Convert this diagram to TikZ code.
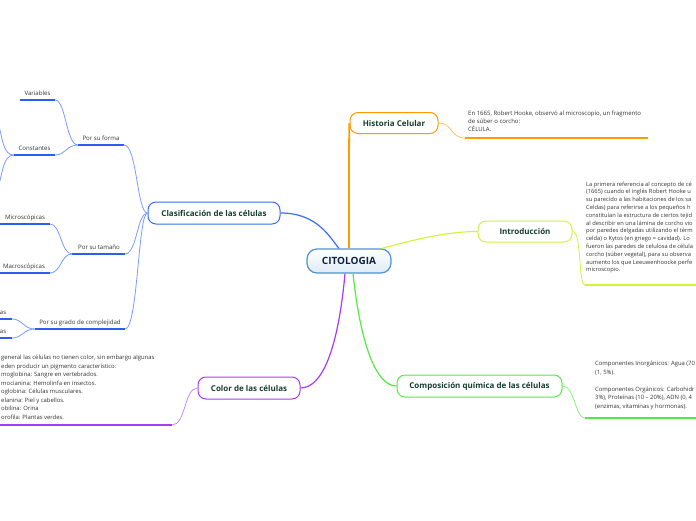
\documentclass[tikz,border=0pt]{standalone}
\usepackage{fontspec}
\setmainfont{Open Sans}
\definecolor{boxtext}{HTML}{173D31}
\definecolor{navy}{HTML}{0F2340}
\definecolor{txt}{HTML}{333333}
\definecolor{cblue}{HTML}{3A6CF4}
\definecolor{lblue}{HTML}{7A9BFF}
\definecolor{ublue}{HTML}{2C5FF0}
\definecolor{corange}{HTML}{FF9A00}
\definecolor{lorange}{HTML}{FFC060}
\definecolor{cyellow}{HTML}{D2F53C}
\definecolor{cgreen}{HTML}{55E844}
\definecolor{lgreen}{HTML}{8CF07E}
\definecolor{cpurple}{HTML}{A63CF8}
\definecolor{lpurple}{HTML}{C78AFB}
\definecolor{cborder}{HTML}{4E93D1}
\begin{document}
\begin{tikzpicture}[x=1pt,y=-1pt,
  box/.style={draw, rounded corners=8pt, fill=white, line width=1pt, inner sep=0pt,
    font=\fontsize{8}{9}\selectfont\bfseries, text=boxtext},
  topic/.style={inner sep=0pt, anchor=base, font=\fontsize{6.1}{7}\selectfont, text=txt},
  info/.style={inner sep=0pt, anchor=north west, align=left, text=txt},
  main/.style={line width=1.2pt},
  thin/.style={line width=0.8pt},
  ul/.style={line width=1.8pt}]
\useasboundingbox (0,0) rectangle (696,520);
\clip (0,0) rectangle (696,520);

% central node
\node[draw=cborder, line width=1.2pt, rounded corners=10pt, top color=white, bottom color=cborder!18,
  minimum width=84pt, minimum height=24pt, inner sep=0pt,
  font=\fontsize{10}{12}\selectfont\bfseries, text=navy] (c) at (349,261) {CITOLOGIA};

% main boxes
\node[box, draw=corange, minimum width=88pt, minimum height=21pt] (hist) at (394,123) {Historia Celular};
\node[box, draw=cyellow, minimum width=94pt, minimum height=21pt] (intro) at (525,231.5) {Introducción};
\node[box, draw=cgreen, minimum width=165pt, minimum height=22pt] (comp) at (479.5,386) {Composición química de las células};
\node[box, draw=cpurple, minimum width=102pt, minimum height=22pt] (color) at (249,388) {Color de las células};
\node[box, draw=cblue, minimum width=132pt, minimum height=22pt] (clas) at (214,213) {Clasificación de las células};

% main connectors
\draw[main, corange, line width=1.8pt] (c.north) .. controls (349,170) and (349,123) .. (hist.west);
\draw[main, cblue] ([xshift=-10pt]c.north) .. controls (330,238) and (318,213) .. (clas.east);
\draw[main, cyellow] ([xshift=33pt]c.north) .. controls (420,238) and (450,231.5) .. (intro.west);
\draw[main, cgreen] ([xshift=4pt]c.south) .. controls (360,340) and (375,386) .. (comp.west);
\draw[main, cpurple] ([xshift=-4pt]c.south) .. controls (338,350) and (322,388) .. (color.east);

% Historia text
\coordinate (hL) at (465,138); \coordinate (hR) at (648,138);
\node[info, font=\fontsize{6}{8.3}\selectfont] (htxt) at (468,110.5)
  {En 1665, Robert Hooke, observó al microscopio, un fragmento\\de súber o corcho:\\CÉLULA.};
\draw[thin, lorange] (hist.east) .. controls (453,123) and (450,138) .. (hL);
\draw[ul, corange] (hL) -- (hR);

% Introduccion text
\coordinate (iL) at (585,285); \coordinate (iR) at (700,285);
\node[info, font=\fontsize{5.75}{7.8}\selectfont] (itxt) at (586,181.5)
  {La primera referencia al concepto de cé\\(1665) cuando el inglés Robert Hooke u\\su parecido a las habitaciones de los sa\\Celdas) para referirse a los pequeños h\\constituían la estructura de ciertos tejid\\al describir en una lámina de corcho vio\\por paredes delgadas utilizando el térm\\celda) o Kytos (en griego = cavidad). Lo\\fueron las paredes de celulosa de célula\\corcho (súber vegetal), para su observa\\aumento los que Leeuwenhoocke perfe\\microscopio.};
\draw[thin, cyellow] (intro.east) .. controls (582,231.5) and (578,285) .. (iL);
\draw[ul, cyellow] (iL) -- (iR);

% Composicion text
\coordinate (qL) at (585,418); \coordinate (qR) at (700,418);
\node[info, font=\fontsize{5.9}{8.6}\selectfont] (qtxt) at (595,360.8)
  {Componentes Inorgánicos: Agua (70\\(1, 5\%).\\[8.6pt]Componentes Orgánicos: Carbohidr\\3\%), Proteínas (10 – 20\%), ADN (0, 4\\(enzimas, vitaminas y hormonas).};
\draw[thin, lgreen] (comp.east) .. controls (575,386) and (575,418) .. (qL);
\draw[ul, cgreen] (qL) -- (qR);

% Color text
\coordinate (pL) at (-5,425); \coordinate (pR) at (172,425);
\node[info, font=\fontsize{5.9}{8.5}\selectfont] (ptxt) at (1,354.8)
  {general las células no tienen color, sin embargo algunas\\eden producir un pigmento característico:\\moglobina: Sangre en vertebrados.\\mocianina: Hemolinfa en insectos.\\oglobina: Células musculares.\\elanina: Piel y cabellos.\\obilina: Orina\\orofila: Plantas verdes.};
\draw[thin, lpurple] (color.west) .. controls (184,388) and (186,425) .. (pR);
\draw[ul, cpurple] (pL) -- (pR);

% Clasificacion subtree
\node[topic] (forma) at (101,140) {Por su forma};
\coordinate (fL) at (78,145); \coordinate (fR) at (124,145);
\node[topic] (var) at (37.5,95) {Variables};
\coordinate (vL) at (20,100); \coordinate (vR) at (55,100);
\node[topic] (cons) at (34.5,150) {Constantes};
\coordinate (kL) at (14,155); \coordinate (kR) at (55,155);
\coordinate (k1) at (-3,118); \coordinate (k2) at (-3,192);

\node[topic] (tam) at (99,249) {Por su tamaño};
\coordinate (tL) at (72,254); \coordinate (tR) at (125,254);
\node[topic] (micro) at (25,219) {Microscópicas};
\coordinate (mL) at (-3,224); \coordinate (mR) at (50,224);
\node[topic] (macro) at (24,268) {Macroscópicas};
\coordinate (MaL) at (-3,273); \coordinate (MaR) at (50,273);

\node[topic] (grado) at (80,324) {Por su grado de complejidad};
\coordinate (gL) at (35,329); \coordinate (gR) at (125,329);
\node[topic, anchor=base east] (a1) at (6.5,314) {as};
\coordinate (a1L) at (-5,319); \coordinate (a1R) at (12,319);
\node[topic, anchor=base east] (a2) at (6.5,333) {as};
\coordinate (a2L) at (-5,338); \coordinate (a2R) at (12,338);

\begin{scope}[thin, lblue]
\draw (clas.west) .. controls (137,213) and (137,145) .. (fR);
\draw (clas.west) .. controls (137,213) and (137,254) .. (tR);
\draw (clas.west) .. controls (138,213) and (138,329) .. (gR);
\draw (fL) .. controls (66,145) and (66,100) .. (vR);
\draw (fL) .. controls (66,145) and (66,155) .. (kR);
\draw (kL) .. controls (3,155) and (3,140) .. (k1);
\draw (kL) .. controls (3,155) and (3,172) .. (k2);
\draw (tL) .. controls (61,254) and (61,224) .. (mR);
\draw (tL) .. controls (61,254) and (61,273) .. (MaR);
\draw (gL) .. controls (23,329) and (23,319) .. (a1R);
\draw (gL) .. controls (23,329) and (23,338) .. (a2R);
\end{scope}

\begin{scope}[ul, ublue]
\draw (fL) -- (fR); \draw (vL) -- (vR); \draw (kL) -- (kR);
\draw (tL) -- (tR); \draw (mL) -- (mR); \draw (MaL) -- (MaR);
\draw (gL) -- (gR); \draw (a1L) -- (a1R); \draw (a2L) -- (a2R);
\end{scope}
\end{tikzpicture}
\end{document}
